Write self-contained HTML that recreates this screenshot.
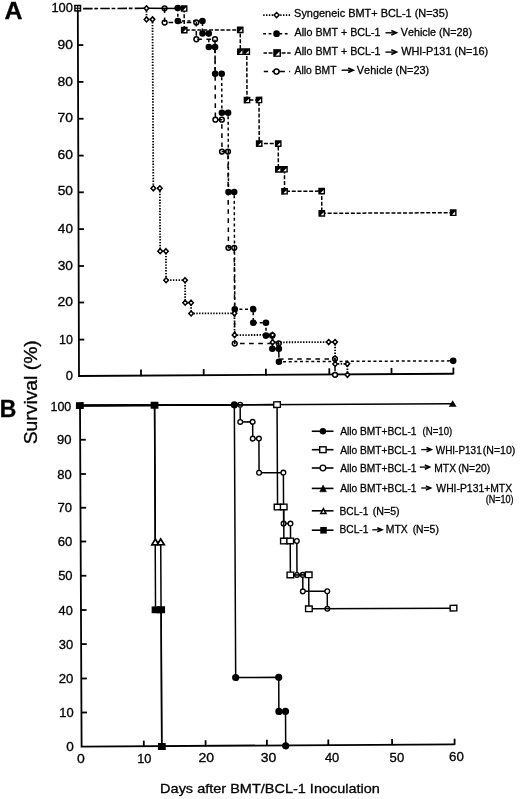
<!DOCTYPE html>
<html><head><meta charset="utf-8"><style>
html,body{margin:0;padding:0;background:#fff;width:520px;height:799px;overflow:hidden}
svg{display:block;will-change:transform}
text{font-family:"Liberation Sans",sans-serif;font-kerning:none}
</style></head><body>
<svg width="520" height="799" viewBox="0 0 520 799">
<g stroke="#000" fill="none" stroke-width="1.8" stroke-linecap="butt">
<path d="M77.8 7.6L79.0 376.0L453.5 373.75"/>
<path d="M77.92 45.05h5.4"/>
<path d="M78.04 81.9h5.4"/>
<path d="M78.16 118.75h5.4"/>
<path d="M78.28 155.6h5.4"/>
<path d="M78.40 192.3h5.4"/>
<path d="M78.52 229.1h5.4"/>
<path d="M78.64 266.0h5.4"/>
<path d="M78.76 302.5h5.4"/>
<path d="M78.88 339.6h5.4"/>
<path d="M141.0 376.13V369.43"/>
<path d="M203.7 375.75V369.05"/>
<path d="M265.9 375.38V368.68"/>
<path d="M329.3 375.00V368.30"/>
<path d="M391.5 374.62V367.93"/>
<path d="M453.4 374.25V367.55"/>
<path d="M80.0 403.5L81.6 746.6L454.6 744.3"/>
<path d="M80.17 439.75h5.6"/>
<path d="M80.33 474.0h5.6"/>
<path d="M80.49 507.75h5.6"/>
<path d="M80.64 541.5h5.6"/>
<path d="M80.80 575.75h5.6"/>
<path d="M80.96 610.0h5.6"/>
<path d="M81.12 644.1h5.6"/>
<path d="M81.28 678.5h5.6"/>
<path d="M81.44 712.5h5.6"/>
<path d="M143.8 746.72V740.62"/>
<path d="M205.6 746.33V740.23"/>
<path d="M266.9 745.96V739.86"/>
<path d="M328.3 745.58V739.48"/>
<path d="M392.1 745.18V739.08"/>
<path d="M454.6 744.80V738.70"/>
</g>
<rect x="74.9" y="5.5" width="5.6" height="5.4" fill="#fff" stroke="#000" stroke-width="1.5"/><path d="M77.7 5.5V11M74.9 8.3H80.5" stroke="#000" stroke-width="1.1"/>
<g transform="rotate(-0.28 260 400)">
<circle cx="179.68" cy="7.70" r="3.3" fill="#000"/><circle cx="179.68" cy="20.66" r="3.3" fill="#000"/><circle cx="204.32" cy="20.66" r="3.3" fill="#000"/><circle cx="204.32" cy="33.23" r="3.3" fill="#000"/><circle cx="210.56" cy="33.23" r="3.3" fill="#000"/><circle cx="210.56" cy="46.77" r="3.3" fill="#000"/><circle cx="216.76" cy="46.77" r="3.3" fill="#000"/><circle cx="216.76" cy="73.59" r="3.3" fill="#000"/><circle cx="223.30" cy="73.59" r="3.3" fill="#000"/><circle cx="223.30" cy="112.63" r="3.3" fill="#000"/><circle cx="229.52" cy="112.63" r="3.3" fill="#000"/><circle cx="229.52" cy="191.86" r="3.3" fill="#000"/><circle cx="235.23" cy="191.86" r="3.3" fill="#000"/><circle cx="235.23" cy="309.12" r="3.3" fill="#000"/><circle cx="253.66" cy="309.12" r="3.3" fill="#000"/><circle cx="253.66" cy="322.75" r="3.3" fill="#000"/><circle cx="266.35" cy="322.75" r="3.3" fill="#000"/><circle cx="266.35" cy="335.64" r="3.3" fill="#000"/><circle cx="272.58" cy="335.64" r="3.3" fill="#000"/><circle cx="272.58" cy="348.88" r="3.3" fill="#000"/><circle cx="279.12" cy="348.88" r="3.3" fill="#000"/><circle cx="279.12" cy="361.79" r="3.3" fill="#000"/><circle cx="453.39" cy="361.79" r="3.3" fill="#000"/>
<circle cx="166.48" cy="7.83" r="2.4" fill="#fff" stroke="#000" stroke-width="1.5"/><circle cx="166.48" cy="22.11" r="2.4" fill="#fff" stroke="#000" stroke-width="1.5"/><circle cx="198.11" cy="22.11" r="2.4" fill="#fff" stroke="#000" stroke-width="1.5"/><circle cx="198.11" cy="38.93" r="2.4" fill="#fff" stroke="#000" stroke-width="1.5"/><circle cx="216.76" cy="38.93" r="2.4" fill="#fff" stroke="#000" stroke-width="1.5"/><circle cx="216.76" cy="119.49" r="2.4" fill="#fff" stroke="#000" stroke-width="1.5"/><circle cx="223.20" cy="119.49" r="2.4" fill="#fff" stroke="#000" stroke-width="1.5"/><circle cx="223.20" cy="151.43" r="2.4" fill="#fff" stroke="#000" stroke-width="1.5"/><circle cx="229.18" cy="151.43" r="2.4" fill="#fff" stroke="#000" stroke-width="1.5"/><circle cx="229.18" cy="247.66" r="2.4" fill="#fff" stroke="#000" stroke-width="1.5"/><circle cx="235.01" cy="247.66" r="2.4" fill="#fff" stroke="#000" stroke-width="1.5"/><circle cx="235.01" cy="343.48" r="2.4" fill="#fff" stroke="#000" stroke-width="1.5"/><circle cx="279.04" cy="343.48" r="2.4" fill="#fff" stroke="#000" stroke-width="1.5"/><circle cx="335.16" cy="359.22" r="2.4" fill="#fff" stroke="#000" stroke-width="1.5"/><circle cx="335.16" cy="375.17" r="2.4" fill="#fff" stroke="#000" stroke-width="1.5"/>
</g>
<path d="M83.1 8.65L146.5 8.3" stroke="#000" stroke-width="1.6" fill="none" stroke-dasharray="9.5 1.8 3.7 2.2"/>
<path d="M146.5 8.3L184.2 8.5" stroke="#000" stroke-width="1.6" fill="none"/>
<g transform="rotate(-0.28 260 400)">
<path d="M148.39 7.75V18.86H154.37V187.79H160.88V250.73H166.66V279.78H185.64V302.35H191.55V313.17H234.87V334.97H272.90V342.40H335.33V364.30H347.55V375.23" fill="none" stroke="#000" stroke-width="1.8" stroke-dasharray="1.4 1.43"/>
<path d="M166.48 7.83V22.11H198.11V38.93H216.76V119.49H223.20V151.43H229.18V247.66H235.01V343.48H279.04V359.22H335.16V375.17" fill="none" stroke="#000" stroke-width="1.5" stroke-dasharray="4.6 4.5"/>
<path d="M179.68 7.70V20.66H204.32V33.23H210.56V46.77H216.76V73.59H223.30V112.63H229.52V191.86H235.23V309.12H253.66V322.75H266.35V335.64H272.58V348.88H279.12V361.79H453.39" fill="none" stroke="#000" stroke-width="1.5" stroke-dasharray="3 2.65"/>
<path d="M186.06 8.13V29.77H242.05V51.62H248.48V99.97H260.46V143.64H279.49V169.41H285.58V191.41H322.72V213.64H454.11" fill="none" stroke="#000" stroke-width="1.5" stroke-dasharray="4 1.8"/>
<path d="M148.39 5.25L150.69 7.75L148.39 10.25L146.09 7.75Z" fill="#fff" stroke="#000" stroke-width="1.5"/><path d="M148.39 16.36L150.69 18.86L148.39 21.36L146.09 18.86Z" fill="#fff" stroke="#000" stroke-width="1.5"/><path d="M154.37 16.36L156.67 18.86L154.37 21.36L152.07 18.86Z" fill="#fff" stroke="#000" stroke-width="1.5"/><path d="M154.37 185.29L156.67 187.79L154.37 190.29L152.07 187.79Z" fill="#fff" stroke="#000" stroke-width="1.5"/><path d="M160.88 185.29L163.18 187.79L160.88 190.29L158.58 187.79Z" fill="#fff" stroke="#000" stroke-width="1.5"/><path d="M160.88 248.23L163.18 250.73L160.88 253.23L158.58 250.73Z" fill="#fff" stroke="#000" stroke-width="1.5"/><path d="M166.66 248.23L168.96 250.73L166.66 253.23L164.36 250.73Z" fill="#fff" stroke="#000" stroke-width="1.5"/><path d="M166.66 277.28L168.96 279.78L166.66 282.28L164.36 279.78Z" fill="#fff" stroke="#000" stroke-width="1.5"/><path d="M185.64 277.28L187.94 279.78L185.64 282.28L183.34 279.78Z" fill="#fff" stroke="#000" stroke-width="1.5"/><path d="M185.64 299.85L187.94 302.35L185.64 304.85L183.34 302.35Z" fill="#fff" stroke="#000" stroke-width="1.5"/><path d="M191.55 299.85L193.85 302.35L191.55 304.85L189.25 302.35Z" fill="#fff" stroke="#000" stroke-width="1.5"/><path d="M191.55 310.67L193.85 313.17L191.55 315.67L189.25 313.17Z" fill="#fff" stroke="#000" stroke-width="1.5"/><path d="M234.87 310.67L237.17 313.17L234.87 315.67L232.57 313.17Z" fill="#fff" stroke="#000" stroke-width="1.5"/><path d="M234.87 332.47L237.17 334.97L234.87 337.47L232.57 334.97Z" fill="#fff" stroke="#000" stroke-width="1.5"/><path d="M272.90 332.47L275.20 334.97L272.90 337.47L270.60 334.97Z" fill="#fff" stroke="#000" stroke-width="1.5"/><path d="M272.90 339.90L275.20 342.40L272.90 344.90L270.60 342.40Z" fill="#fff" stroke="#000" stroke-width="1.5"/><path d="M335.33 339.90L337.63 342.40L335.33 344.90L333.03 342.40Z" fill="#fff" stroke="#000" stroke-width="1.5"/><path d="M335.33 361.80L337.63 364.30L335.33 366.80L333.03 364.30Z" fill="#fff" stroke="#000" stroke-width="1.5"/><path d="M347.55 361.80L349.85 364.30L347.55 366.80L345.25 364.30Z" fill="#fff" stroke="#000" stroke-width="1.5"/><path d="M347.55 372.73L349.85 375.23L347.55 377.73L345.25 375.23Z" fill="#fff" stroke="#000" stroke-width="1.5"/><path d="M328.98 339.94L331.28 342.44L328.98 344.94L326.68 342.44Z" fill="#fff" stroke="#000" stroke-width="1.5"/>
<rect x="183.51" y="5.58" width="5.10" height="5.10" fill="#000" stroke="#000" stroke-width="1.6"/><path d="M188.01 6.98L188.01 10.08L184.91 10.08Z" fill="#fff"/><rect x="183.51" y="27.22" width="5.10" height="5.10" fill="#000" stroke="#000" stroke-width="1.6"/><path d="M188.01 28.62L188.01 31.72L184.91 31.72Z" fill="#fff"/><rect x="239.50" y="27.22" width="5.10" height="5.10" fill="#000" stroke="#000" stroke-width="1.6"/><path d="M244.00 28.62L244.00 31.72L240.90 31.72Z" fill="#fff"/><rect x="239.50" y="49.07" width="5.10" height="5.10" fill="#000" stroke="#000" stroke-width="1.6"/><path d="M244.00 50.47L244.00 53.57L240.90 53.57Z" fill="#fff"/><rect x="245.93" y="49.07" width="5.10" height="5.10" fill="#000" stroke="#000" stroke-width="1.6"/><path d="M250.43 50.47L250.43 53.57L247.33 53.57Z" fill="#fff"/><rect x="245.93" y="97.42" width="5.10" height="5.10" fill="#000" stroke="#000" stroke-width="1.6"/><path d="M250.43 98.82L250.43 101.92L247.33 101.92Z" fill="#fff"/><rect x="257.91" y="97.42" width="5.10" height="5.10" fill="#000" stroke="#000" stroke-width="1.6"/><path d="M262.41 98.82L262.41 101.92L259.31 101.92Z" fill="#fff"/><rect x="257.91" y="141.09" width="5.10" height="5.10" fill="#000" stroke="#000" stroke-width="1.6"/><path d="M262.41 142.49L262.41 145.59L259.31 145.59Z" fill="#fff"/><rect x="276.94" y="141.09" width="5.10" height="5.10" fill="#000" stroke="#000" stroke-width="1.6"/><path d="M281.44 142.49L281.44 145.59L278.34 145.59Z" fill="#fff"/><rect x="276.94" y="166.86" width="5.10" height="5.10" fill="#000" stroke="#000" stroke-width="1.6"/><path d="M281.44 168.26L281.44 171.36L278.34 171.36Z" fill="#fff"/><rect x="283.03" y="166.86" width="5.10" height="5.10" fill="#000" stroke="#000" stroke-width="1.6"/><path d="M287.53 168.26L287.53 171.36L284.43 171.36Z" fill="#fff"/><rect x="283.03" y="188.86" width="5.10" height="5.10" fill="#000" stroke="#000" stroke-width="1.6"/><path d="M287.53 190.26L287.53 193.36L284.43 193.36Z" fill="#fff"/><rect x="320.17" y="188.86" width="5.10" height="5.10" fill="#000" stroke="#000" stroke-width="1.6"/><path d="M324.67 190.26L324.67 193.36L321.57 193.36Z" fill="#fff"/><rect x="320.17" y="211.09" width="5.10" height="5.10" fill="#000" stroke="#000" stroke-width="1.6"/><path d="M324.67 212.49L324.67 215.59L321.57 215.59Z" fill="#fff"/><rect x="451.56" y="211.09" width="5.10" height="5.10" fill="#000" stroke="#000" stroke-width="1.6"/><path d="M456.06 212.49L456.06 215.59L452.96 215.59Z" fill="#fff"/>
<path d="M79.80 404.70H154.51V609.30H160.13V746.02" fill="none" stroke="#000" stroke-width="1.5"/>
<rect x="75.90" y="401.25" width="7.80" height="6.90" fill="#000"/><rect x="150.61" y="401.25" width="7.80" height="6.90" fill="#000"/><rect x="150.61" y="605.85" width="7.80" height="6.90" fill="#000"/><rect x="156.23" y="605.85" width="7.80" height="6.90" fill="#000"/><rect x="156.23" y="742.57" width="7.80" height="6.90" fill="#000"/>
<path d="M79.80 404.70H154.61V541.70H160.03V746.02" fill="none" stroke="#000" stroke-width="1.5"/>
<path d="M154.61 538.50L158.11 544.26L151.11 544.26Z" fill="#fff" stroke="#000" stroke-width="1.7" stroke-linejoin="miter"/><path d="M160.03 538.50L163.53 544.26L156.53 544.26Z" fill="#fff" stroke="#000" stroke-width="1.7" stroke-linejoin="miter"/>
<path d="M79.80 404.70H234.32V677.39H277.36V711.51H284.00V745.93" fill="none" stroke="#000" stroke-width="1.5"/>
<circle cx="234.32" cy="404.70" r="3.6" fill="#000"/><circle cx="234.32" cy="677.39" r="3.6" fill="#000"/><circle cx="277.36" cy="677.39" r="3.6" fill="#000"/><circle cx="277.36" cy="711.51" r="3.6" fill="#000"/><circle cx="284.00" cy="711.51" r="3.6" fill="#000"/><circle cx="284.00" cy="745.93" r="3.6" fill="#000"/>
<path d="M79.80 404.70H240.14V421.83H252.55V438.58H258.73V472.75H283.02V523.73H289.85V541.16H296.13V575.09H301.91V591.57H326.32V609.13" fill="none" stroke="#000" stroke-width="1.5"/>
<circle cx="240.14" cy="404.70" r="2.35" fill="#fff" stroke="#000" stroke-width="1.35"/><circle cx="240.14" cy="421.83" r="2.35" fill="#fff" stroke="#000" stroke-width="1.35"/><circle cx="252.55" cy="421.83" r="2.35" fill="#fff" stroke="#000" stroke-width="1.35"/><circle cx="252.55" cy="438.58" r="2.35" fill="#fff" stroke="#000" stroke-width="1.35"/><circle cx="258.73" cy="438.58" r="2.35" fill="#fff" stroke="#000" stroke-width="1.35"/><circle cx="258.73" cy="472.75" r="2.35" fill="#fff" stroke="#000" stroke-width="1.35"/><circle cx="283.02" cy="472.75" r="2.35" fill="#fff" stroke="#000" stroke-width="1.35"/><circle cx="283.02" cy="523.73" r="2.35" fill="#fff" stroke="#000" stroke-width="1.35"/><circle cx="289.85" cy="523.73" r="2.35" fill="#fff" stroke="#000" stroke-width="1.35"/><circle cx="289.85" cy="541.16" r="2.35" fill="#fff" stroke="#000" stroke-width="1.35"/><circle cx="296.13" cy="541.16" r="2.35" fill="#fff" stroke="#000" stroke-width="1.35"/><circle cx="296.13" cy="575.09" r="2.35" fill="#fff" stroke="#000" stroke-width="1.35"/><circle cx="301.91" cy="575.09" r="2.35" fill="#fff" stroke="#000" stroke-width="1.35"/><circle cx="301.91" cy="591.57" r="2.35" fill="#fff" stroke="#000" stroke-width="1.35"/><circle cx="326.32" cy="591.57" r="2.35" fill="#fff" stroke="#000" stroke-width="1.35"/><circle cx="326.32" cy="609.13" r="2.35" fill="#fff" stroke="#000" stroke-width="1.35"/>
<path d="M79.80 404.70H452.68" fill="none" stroke="#000" stroke-width="1.6"/>
<path d="M452.68 401.10L456.58 407.76L448.78 407.76Z" fill="#000"/>
<path d="M79.80 404.70H277.03V507.10H283.19V541.13H289.53V575.09H307.86V609.08H452.48" fill="none" stroke="#000" stroke-width="1.5"/>
<rect x="273.73" y="401.90" width="6.60" height="5.60" fill="#fff" stroke="#000" stroke-width="1.4"/><rect x="273.73" y="504.30" width="6.60" height="5.60" fill="#fff" stroke="#000" stroke-width="1.4"/><rect x="279.89" y="504.30" width="6.60" height="5.60" fill="#fff" stroke="#000" stroke-width="1.4"/><rect x="279.89" y="538.33" width="6.60" height="5.60" fill="#fff" stroke="#000" stroke-width="1.4"/><rect x="286.23" y="538.33" width="6.60" height="5.60" fill="#fff" stroke="#000" stroke-width="1.4"/><rect x="286.23" y="572.29" width="6.60" height="5.60" fill="#fff" stroke="#000" stroke-width="1.4"/><rect x="304.56" y="572.29" width="6.60" height="5.60" fill="#fff" stroke="#000" stroke-width="1.4"/><rect x="304.56" y="606.28" width="6.60" height="5.60" fill="#fff" stroke="#000" stroke-width="1.4"/><rect x="449.18" y="606.28" width="6.60" height="5.60" fill="#fff" stroke="#000" stroke-width="1.4"/>
</g>
<path d="M263.2 15.1H290.1" stroke="#000" stroke-width="1.8" stroke-dasharray="1.4 1.43"/><path d="M276.60 12.50L279.10 15.10L276.60 17.70L274.10 15.10Z" fill="#fff" stroke="#000" stroke-width="1.5"/>
<path d="M263.2 33.7H289.3" stroke="#000" stroke-width="1.5" stroke-dasharray="2.8 2.6"/><circle cx="276.60" cy="33.70" r="3.4" fill="#000"/>
<path d="M385.40 32.80H396.00" stroke="#000" stroke-width="1.4" fill="none"/><path d="M391.30 30.50L396.50 32.80L391.30 35.10" stroke="#000" stroke-width="1.5999999999999999" fill="none" stroke-linejoin="miter"/>
<path d="M263.5 53H267M268.6 53H272.5M281.6 53H285.6M287.2 53H290.6" stroke="#000" stroke-width="1.6"/><rect x="274.10" y="50.00" width="6.00" height="6.00" fill="#000" stroke="#000" stroke-width="1.7"/><path d="M279.50 51.40L279.50 55.40L275.50 55.40Z" fill="#fff"/>
<path d="M385.40 52.10H396.00" stroke="#000" stroke-width="1.4" fill="none"/><path d="M391.30 49.80L396.50 52.10L391.30 54.40" stroke="#000" stroke-width="1.5999999999999999" fill="none" stroke-linejoin="miter"/>
<path d="M263.8 71.6H268.1M272 71.6H284.9M289.1 71.6H290.1" stroke="#000" stroke-width="1.5"/><circle cx="276.50" cy="71.60" r="2.55" fill="#fff" stroke="#000" stroke-width="1.5"/>
<path d="M341.60 70.20H352.80" stroke="#000" stroke-width="1.4" fill="none"/><path d="M348.10 67.90L353.30 70.20L348.10 72.50" stroke="#000" stroke-width="1.5999999999999999" fill="none" stroke-linejoin="miter"/>
<path d="M311.8 431.25H333.5" stroke="#000" stroke-width="1.6"/><circle cx="322.90" cy="431.25" r="3.2" fill="#000"/>
<path d="M311.8 449.7H333.5" stroke="#000" stroke-width="1.6"/><rect x="319.70" y="446.80" width="6.40" height="5.80" fill="#fff" stroke="#000" stroke-width="1.4"/>
<path d="M421.20 449.60H430.80" stroke="#000" stroke-width="1.3" fill="none"/><path d="M426.50 447.50L431.30 449.60L426.50 451.70" stroke="#000" stroke-width="1.5" fill="none" stroke-linejoin="miter"/>
<path d="M311.8 468.0H333.5" stroke="#000" stroke-width="1.6"/><circle cx="322.90" cy="468.00" r="2.8" fill="#fff" stroke="#000" stroke-width="1.3"/>
<path d="M419.80 467.10H429.10" stroke="#000" stroke-width="1.3" fill="none"/><path d="M424.80 465.00L429.60 467.10L424.80 469.20" stroke="#000" stroke-width="1.5" fill="none" stroke-linejoin="miter"/>
<path d="M311.8 488.4H333.5" stroke="#000" stroke-width="1.6"/><path d="M323.1 485.0L326.4 491.8L319.8 491.8Z" fill="#000" stroke="#000" stroke-width="0.6"/>
<path d="M421.20 488.00H430.20" stroke="#000" stroke-width="1.3" fill="none"/><path d="M425.90 485.90L430.70 488.00L425.90 490.10" stroke="#000" stroke-width="1.5" fill="none" stroke-linejoin="miter"/>
<path d="M311.8 510.8H333.5" stroke="#000" stroke-width="1.6"/><path d="M323.4 508.6L326.0 513.6L320.8 513.6Z" fill="#fff" stroke="#000" stroke-width="1.5"/>
<path d="M311.8 530.2H333.5" stroke="#000" stroke-width="1.6"/><rect x="320.25" y="527.00" width="6.50" height="6.60" fill="#000"/>
<path d="M372.30 529.80H381.60" stroke="#000" stroke-width="1.3" fill="none"/><path d="M377.30 527.70L382.10 529.80L377.30 531.90" stroke="#000" stroke-width="1.5" fill="none" stroke-linejoin="miter"/>
<g fill="#000" stroke="#000" stroke-width="0.3" font-family="Liberation Sans, sans-serif">
<text x="4.58" y="19.10" font-size="23.2" font-weight="bold" textLength="17.98" lengthAdjust="spacingAndGlyphs">A</text>
<text x="-0.24" y="416.70" font-size="23.2" font-weight="bold" textLength="16.58" lengthAdjust="spacingAndGlyphs">B</text>
<text x="65.69" y="379.53" font-size="12.0" textLength="7.21" lengthAdjust="spacingAndGlyphs">0</text>
<text x="59.05" y="343.63" font-size="12.0" textLength="13.83" lengthAdjust="spacingAndGlyphs">10</text>
<text x="57.50" y="306.33" font-size="12.0" textLength="15.44" lengthAdjust="spacingAndGlyphs">20</text>
<text x="57.68" y="269.73" font-size="12.0" textLength="15.26" lengthAdjust="spacingAndGlyphs">30</text>
<text x="57.89" y="232.83" font-size="12.0" textLength="15.04" lengthAdjust="spacingAndGlyphs">40</text>
<text x="57.65" y="195.48" font-size="12.0" textLength="15.29" lengthAdjust="spacingAndGlyphs">50</text>
<text x="57.49" y="159.13" font-size="12.0" textLength="15.45" lengthAdjust="spacingAndGlyphs">60</text>
<text x="57.49" y="122.43" font-size="12.0" textLength="15.46" lengthAdjust="spacingAndGlyphs">70</text>
<text x="57.60" y="85.53" font-size="12.0" textLength="15.34" lengthAdjust="spacingAndGlyphs">80</text>
<text x="57.55" y="48.73" font-size="12.0" textLength="15.39" lengthAdjust="spacingAndGlyphs">90</text>
<text x="51.42" y="11.93" font-size="12.0" textLength="21.48" lengthAdjust="spacingAndGlyphs">100</text>
<text x="66.32" y="751.23" font-size="12.0" textLength="7.56" lengthAdjust="spacingAndGlyphs">0</text>
<text x="59.21" y="717.23" font-size="12.0" textLength="14.39" lengthAdjust="spacingAndGlyphs">10</text>
<text x="58.78" y="683.23" font-size="12.0" textLength="14.57" lengthAdjust="spacingAndGlyphs">20</text>
<text x="58.69" y="648.83" font-size="12.0" textLength="14.40" lengthAdjust="spacingAndGlyphs">30</text>
<text x="58.64" y="614.73" font-size="12.0" textLength="14.19" lengthAdjust="spacingAndGlyphs">40</text>
<text x="58.15" y="580.48" font-size="12.0" textLength="14.43" lengthAdjust="spacingAndGlyphs">50</text>
<text x="57.75" y="546.23" font-size="12.0" textLength="14.58" lengthAdjust="spacingAndGlyphs">60</text>
<text x="57.49" y="512.48" font-size="12.0" textLength="14.58" lengthAdjust="spacingAndGlyphs">70</text>
<text x="57.34" y="478.73" font-size="12.0" textLength="14.47" lengthAdjust="spacingAndGlyphs">80</text>
<text x="57.04" y="444.48" font-size="12.0" textLength="14.52" lengthAdjust="spacingAndGlyphs">90</text>
<text x="50.55" y="410.63" font-size="12.0" textLength="20.73" lengthAdjust="spacingAndGlyphs">100</text>
<text x="77.10" y="763.03" font-size="12.0" textLength="7.79" lengthAdjust="spacingAndGlyphs">0</text>
<text x="137.18" y="762.74" font-size="12.0" textLength="14.17" lengthAdjust="spacingAndGlyphs">10</text>
<text x="198.49" y="762.46" font-size="12.0" textLength="15.66" lengthAdjust="spacingAndGlyphs">20</text>
<text x="260.72" y="762.18" font-size="12.0" textLength="15.58" lengthAdjust="spacingAndGlyphs">30</text>
<text x="324.96" y="761.90" font-size="12.0" textLength="14.30" lengthAdjust="spacingAndGlyphs">40</text>
<text x="389.63" y="761.61" font-size="12.0" textLength="14.53" lengthAdjust="spacingAndGlyphs">50</text>
<text x="449.12" y="761.34" font-size="12.0" textLength="14.80" lengthAdjust="spacingAndGlyphs">60</text>
<text x="160.11" y="792.60" font-size="13.6" textLength="219.83" lengthAdjust="spacingAndGlyphs">Days after BMT/BCL-1 Inoculation</text>
<g transform="translate(36.8 443.4) rotate(-90)"><text x="-0.88" y="0" font-size="18.6" textLength="104.07" lengthAdjust="spacingAndGlyphs">Survival (%)</text></g>
<text x="294.10" y="17.30" font-size="11.2" textLength="154.27" lengthAdjust="spacingAndGlyphs">Syngeneic BMT+ BCL-1 (N=35)</text>
<text x="294.58" y="36.00" font-size="11.2" textLength="85.94" lengthAdjust="spacingAndGlyphs">Allo BMT + BCL-1</text>
<text x="400.75" y="36.00" font-size="11.2" textLength="71.41" lengthAdjust="spacingAndGlyphs">Vehicle (N=28)</text>
<text x="294.58" y="55.20" font-size="11.2" textLength="85.94" lengthAdjust="spacingAndGlyphs">Allo BMT + BCL-1</text>
<text x="401.15" y="55.20" font-size="11.2" textLength="87.02" lengthAdjust="spacingAndGlyphs">WHI-P131 (N=16)</text>
<text x="294.58" y="74.00" font-size="11.2" textLength="41.96" lengthAdjust="spacingAndGlyphs">Allo BMT</text>
<text x="356.85" y="74.00" font-size="11.2" textLength="72.32" lengthAdjust="spacingAndGlyphs">Vehicle (N=23)</text>
<text x="340.18" y="434.50" font-size="10.9" textLength="76.32" lengthAdjust="spacingAndGlyphs">Allo BMT+BCL-1</text>
<text x="422.60" y="434.50" font-size="10.9" textLength="29.69" lengthAdjust="spacingAndGlyphs">(N=10)</text>
<text x="340.18" y="453.70" font-size="10.9" textLength="76.32" lengthAdjust="spacingAndGlyphs">Allo BMT+BCL-1</text>
<text x="435.76" y="453.70" font-size="10.9" textLength="45.93" lengthAdjust="spacingAndGlyphs">WHI-P131</text>
<text x="482.85" y="453.70" font-size="10.9" textLength="32.51" lengthAdjust="spacingAndGlyphs">(N=10)</text>
<text x="340.18" y="471.80" font-size="10.9" textLength="76.32" lengthAdjust="spacingAndGlyphs">Allo BMT+BCL-1</text>
<text x="434.25" y="471.80" font-size="10.9" textLength="21.76" lengthAdjust="spacingAndGlyphs">MTX</text>
<text x="458.16" y="471.80" font-size="10.9" textLength="31.99" lengthAdjust="spacingAndGlyphs">(N=20)</text>
<text x="340.28" y="492.30" font-size="10.9" textLength="76.22" lengthAdjust="spacingAndGlyphs">Allo BMT+BCL-1</text>
<text x="436.35" y="492.30" font-size="10.9" textLength="75.76" lengthAdjust="spacingAndGlyphs">WHI-P131+MTX</text>
<text x="485.64" y="502.60" font-size="10.9" textLength="27.92" lengthAdjust="spacingAndGlyphs">(N=10)</text>
<text x="339.46" y="514.80" font-size="10.9" textLength="28.94" lengthAdjust="spacingAndGlyphs">BCL-1</text>
<text x="372.74" y="514.80" font-size="10.9" textLength="26.92" lengthAdjust="spacingAndGlyphs">(N=5)</text>
<text x="339.46" y="533.30" font-size="10.9" textLength="28.94" lengthAdjust="spacingAndGlyphs">BCL-1</text>
<text x="385.85" y="533.30" font-size="10.9" textLength="21.97" lengthAdjust="spacingAndGlyphs">MTX</text>
<text x="412.66" y="533.30" font-size="10.9" textLength="26.18" lengthAdjust="spacingAndGlyphs">(N=5)</text>
</g>
</svg>
</body></html>
